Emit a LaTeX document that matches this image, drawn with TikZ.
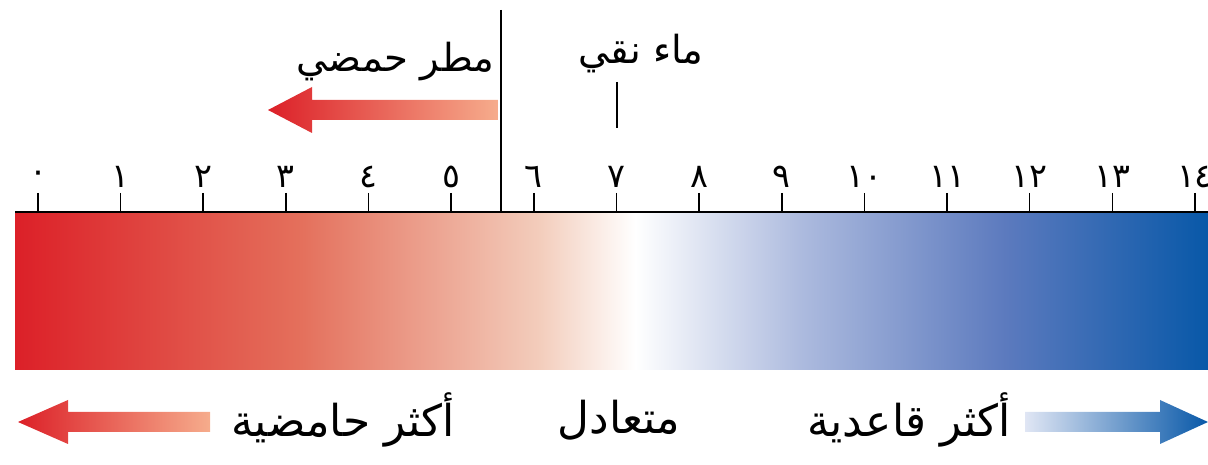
\documentclass[tikz,border=0pt]{standalone}
\usepackage{fontspec}
\newfontfamily\arabicfont[Script=Arabic]{DejaVu Sans}
\TeXXeTstate=1
\usetikzlibrary{positioning}
\definecolor{AcidRed}{RGB}{220,32,40}
\definecolor{AcidMid}{RGB}{228,112,92}
\definecolor{AcidPink}{RGB}{243,205,188}
\definecolor{AcidPale}{RGB}{246,172,140}
\definecolor{BaseLight}{RGB}{172,186,222}
\definecolor{BaseMid}{RGB}{92,122,190}
\definecolor{BaseBlue}{RGB}{8,88,168}
\definecolor{BasePale}{RGB}{224,230,244}
\pgfdeclarehorizontalshading{phscale}{100bp}{
    color(0bp)=(AcidRed); color(25bp)=(AcidRed); color(37bp)=(AcidMid);
    color(47bp)=(AcidPink); color(51bp)=(white); color(58bp)=(BaseLight);
    color(66.5bp)=(BaseMid); color(75bp)=(BaseBlue); color(100bp)=(BaseBlue)}

\begin{document}
\begin{tikzpicture}[
    x=0.02cm, y=-0.02cm,
    lbl/.style={font=\arabicfont\fontsize{22}{26}\selectfont, inner sep=0pt},
    botlbl/.style={font=\arabicfont\fontsize{25}{30}\selectfont, inner sep=0pt},
    num/.style={font=\arabicfont\fontsize{19}{22}\selectfont, inner sep=0pt},
    phtick/.style={line width=0.9pt},
    marker/.style={line width=1.6pt}
]
    \useasboundingbox (0,0) rectangle (1208,465);
    % the scale bar
    \shade[shading=phscale] (15,212) rectangle (1208,370);
    \draw[line width=1.1pt] (15,212) -- (1208,212);
    \foreach \n/\d in {0/٠,1/١,2/٢,3/٣,4/٤,5/٥,6/٦,7/٧,8/٨,9/٩,10/١٠,11/١١,12/١٢,13/١٣,14/١٤} {
        \draw[phtick] (38+82.64*\n,193) -- (38+82.64*\n,212);
        \node[num] (n\n) at (38+82.64*\n,177) {\d};
    }
    % acid rain
    \coordinate (raintop) at (501,10);
    \coordinate (rainbase) at (501,212);
    \draw[marker] (raintop) -- (rainbase);
    \node[lbl, anchor=east] (rain) at (495,62) {\beginR مطر حمضي\endR};
    \shade[left color=AcidRed, right color=AcidPale]
        (268,110) -- (312,87) -- (312,100) -- (498,100) -- (498,120)
        -- (312,120) -- (312,133) -- cycle;
    % pure water
    \node[lbl] (water) at (641,54) {\beginR ماء نقي\endR};
    \coordinate (watertop) at (617,82);
    \coordinate (waterbase) at (617,128);
    \draw[marker] (watertop) -- (waterbase);
    % bottom labels
    \node[botlbl] (acid) at (343,420) {\beginR أكثر حامضية\endR};
    \node[botlbl] (neutral) at (619,420) {\beginR متعادل\endR};
    \node[botlbl] (basic) at (909,420) {\beginR أكثر قاعدية\endR};
    \shade[left color=AcidRed, right color=AcidPale]
        (18,422) -- (68,400) -- (68,412) -- (210,412) -- (210,432)
        -- (68,432) -- (68,444) -- cycle;
    \shade[left color=BasePale, right color=BaseBlue]
        (1025,412) -- (1160,412) -- (1160,400) -- (1208,422) -- (1160,444)
        -- (1160,432) -- (1025,432) -- cycle;
\end{tikzpicture}
\end{document}
